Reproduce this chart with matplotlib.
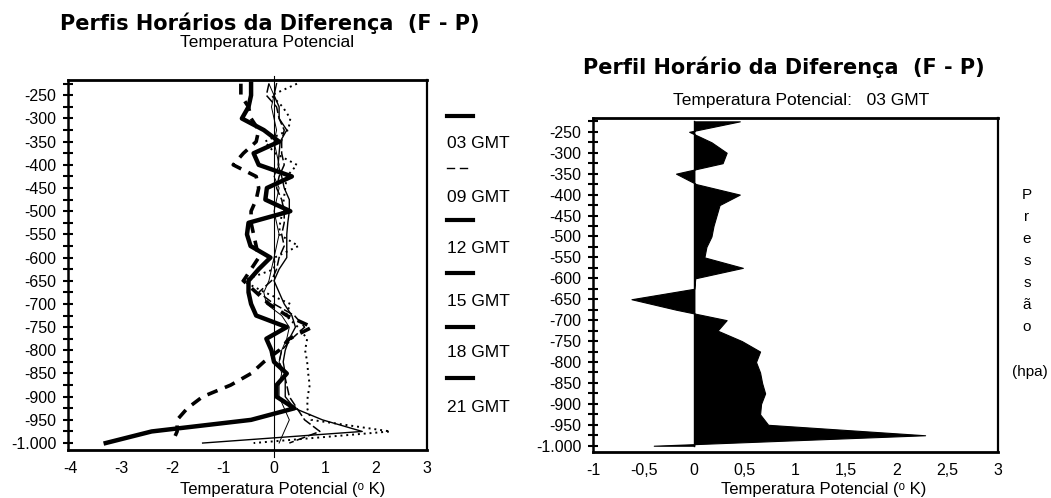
import matplotlib
matplotlib.use("Agg")
import matplotlib.pyplot as plt
from matplotlib.lines import Line2D
from matplotlib.ticker import FixedLocator, FuncFormatter

# ---------------- data ----------------
pressure = [-225, -250, -275, -300, -325, -350, -375, -400, -425, -450, -475,
            -500, -525, -550, -575, -600, -625, -650, -675, -700, -725, -750,
            -775, -800, -825, -850, -875, -900, -925, -950, -975, -1000]

gmt03 = [0.45, -0.05, 0.17, 0.32, 0.28, -0.18, 0.02, 0.45, 0.25, 0.22, 0.19,
         0.17, 0.12, 0.10, 0.48, 0.01, 0.0, -0.62, -0.18, 0.32, 0.23, 0.47,
         0.65, 0.61, 0.65, 0.67, 0.70, 0.66, 0.65, 0.73, 2.28, -0.40]
gmt09 = [-0.65, -0.65, -0.5, -0.45, -0.3, -0.35, -0.6, -0.8, -0.35, -0.3, -0.35,
         -0.45, -0.45, -0.4, -0.35, -0.3, -0.45, -0.6, -0.35, -0.1, 0.25, 0.75,
         0.3, 0.1, -0.2, -0.45, -0.85, -1.4, -1.7, -1.9, -1.9, -2.0]
gmt12 = [-0.45, -0.45, -0.5, -0.63, -0.2, 0.1, -0.4, -0.3, 0.35, -0.14, -0.17,
         0.32, -0.5, -0.53, -0.46, -0.07, -0.3, -0.5, -0.5, -0.45, -0.35, 0.25,
         -0.15, -0.05, 0.0, 0.25, 0.05, 0.05, 0.4, -0.45, -2.4, -3.3]
gmt15 = [0.05, 0.0, 0.1, 0.1, 0.25, 0.12, 0.1, 0.08, 0.15, 0.2, 0.3,
         0.3, 0.27, 0.25, 0.25, 0.25, 0.1, 0.0, 0.1, 0.2, 0.35, 0.42,
         0.3, 0.22, 0.18, 0.22, 0.22, 0.22, 0.4, 0.95, 1.73, -1.4]
gmt18 = [-0.1, -0.15, 0.05, 0.1, 0.2, 0.15, 0.15, 0.2, 0.1, 0.05, 0.15,
         0.2, 0.2, 0.15, 0.2, 0.1, 0.05, -0.05, -0.3, 0.0, 0.4, 0.6,
         0.35, 0.15, 0.1, 0.2, 0.25, 0.3, 0.45, 0.6, 0.9, 0.3]
gmt21 = [-0.1, 0.0, -0.05, 0.0, 0.05, 0.0, 0.05, 0.1, 0.0, 0.1, 0.05,
         0.0, 0.05, 0.1, 0.05, 0.0, -0.05, -0.1, -0.2, -0.15, 0.15, 0.3,
         0.25, 0.15, 0.1, 0.15, 0.1, 0.1, 0.2, 0.3, 0.2, 0.1]

labels = ["03 GMT", "09 GMT", "12 GMT", "15 GMT", "18 GMT", "21 GMT"]
yticks = [-250, -300, -350, -400, -450, -500, -550, -600, -650, -700, -750,
          -800, -850, -900, -950, -1000]
yminor = [-225, -275, -325, -375, -425, -475, -525, -575, -625, -675, -725,
          -775, -825, -875, -925, -975]
left_xticks = [-4, -3, -2, -1, 0, 1, 2, 3]
right_xticks = [-1, -0.5, 0, 0.5, 1, 1.5, 2, 2.5, 3]

# ---------------- figure ----------------
W, H = 1051, 498
fig = plt.figure(figsize=(W / 100, H / 100), dpi=100)
plt.rcParams['font.family'] = ['Liberation Sans', 'DejaVu Sans']

def fx(px):
    return px / W

def fy(py):
    return 1 - py / H

def ptfmt(v, pos=None):
    if abs(v) >= 1000:
        s = f"{abs(int(v)):,}".replace(",", ".")
        return ("-" if v < 0 else "") + s
    if float(v).is_integer():
        return f"{int(v)}"
    return f"{v:g}".replace(".", ",")

def style_axes(ax, xticks):
    ax.set_ylim(-1015, -217)
    ax.yaxis.set_major_locator(FixedLocator(yticks))
    ax.yaxis.set_minor_locator(FixedLocator(yminor))
    ax.yaxis.set_major_formatter(FuncFormatter(ptfmt))
    ax.set_xticks(xticks)
    ax.xaxis.set_major_formatter(FuncFormatter(ptfmt))
    ax.tick_params(axis='y', which='both', direction='inout', length=7,
                   width=1.5, labelsize=11.5, pad=5)
    ax.tick_params(axis='x', length=0, labelsize=11.5, pad=8)
    for s in ['top', 'bottom']:
        ax.spines[s].set_linewidth(2.0)
    ax.spines['left'].set_linewidth(1.8)
    ax.spines['right'].set_linewidth(1.6)

# Left axes
axL = fig.add_axes([fx(68), fy(450), fx(427 - 68), (450 - 80) / H])
axL.set_xlim(-4.04, 3.0)
style_axes(axL, left_xticks)
axL.axvline(0, color='black', lw=0.8, ymin=-0.02, ymax=1.01, clip_on=False)

axL.plot(gmt03, pressure, color='black', lw=1.4, linestyle=(0, (1, 2)))
axL.plot(gmt09, pressure, color='black', lw=2.6, linestyle=(0, (3, 2.2)))
axL.plot(gmt12, pressure, color='black', lw=3.2)
axL.plot(gmt15, pressure, color='black', lw=1.0)
axL.plot(gmt18, pressure, color='black', lw=1.1, linestyle=(0, (6, 2)))
axL.plot(gmt21, pressure, color='black', lw=0.7)

# Right axes
axR = fig.add_axes([fx(593), fy(452), fx(998 - 593), (452 - 118) / H])
axR.set_xlim(-1.0, 3.0)
style_axes(axR, right_xticks)
axR.fill_betweenx(pressure, 0, gmt03, color='black', lw=0.8)
axR.plot([0] * len(pressure), pressure, color='black', lw=1.0)

# ---------------- text ----------------
fig.text(fx(60), fy(23), "Perfis Horários da Diferença  (F - P)",
         fontsize=15, fontweight='bold', family=['DejaVu Sans'],
         ha='left', va='center')
fig.text(fx(180), fy(43), "Temperatura Potencial", fontsize=12.5,
         ha='left', va='center')
fig.text(fx(583), fy(67), "Perfil Horário da Diferença  (F - P)",
         fontsize=15, fontweight='bold', family=['DejaVu Sans'],
         ha='left', va='center')
fig.text(fx(673), fy(100), "Temperatura Potencial:   03 GMT", fontsize=12.5,
         ha='left', va='center')

fig.text(fx(283), fy(489), "Temperatura Potencial (ᵒ K)", fontsize=12,
         ha='center', va='center')
fig.text(fx(824), fy(489), "Temperatura Potencial (ᵒ K)", fontsize=12,
         ha='center', va='center')

# vertical axis label on the right
for i, ch in enumerate("Pressão"):
    fig.text(fx(1027), fy(195 + 22 * i), ch, fontsize=11, ha='center', va='center')
fig.text(fx(1030), fy(372), "(hpa)", fontsize=11, ha='center', va='center')

# legend (labels with marks above)
label_y = [143, 197, 248, 302, 352, 407]
mark_y = [116, 168, 220, 273, 327, 378]
for lab, ly, my in zip(labels, label_y, mark_y):
    fig.text(fx(447), fy(ly), lab, fontsize=12.5, ha='left', va='center')
    if lab == "09 GMT":
        fig.add_artist(Line2D([fx(447), fx(454)], [fy(my), fy(my)], color='black', lw=1.0))
        fig.add_artist(Line2D([fx(460), fx(467)], [fy(my), fy(my)], color='black', lw=1.0))
    else:
        fig.add_artist(Line2D([fx(447), fx(473)], [fy(my), fy(my)], color='black', lw=3.0))

fig.savefig("out.png", dpi=100)
